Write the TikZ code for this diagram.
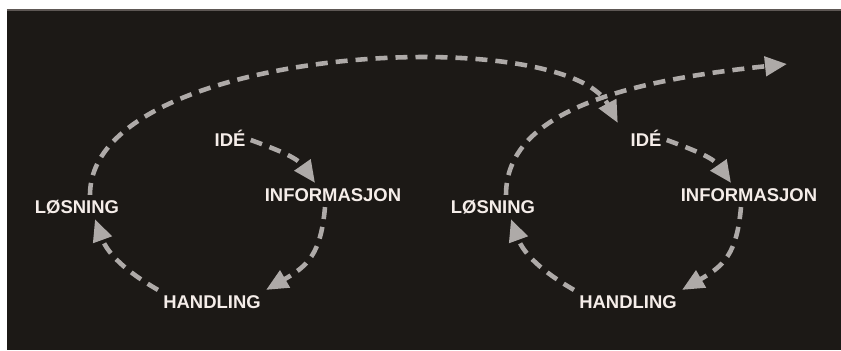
\documentclass[tikz,border=0pt]{standalone}
\usepackage{fontspec}
\setmainfont{Liberation Sans}
\usetikzlibrary{arrows.meta, positioning}

\definecolor{bgdark}{HTML}{1C1916}
\definecolor{edgegray}{HTML}{5E5855}
\definecolor{arrowgray}{HTML}{AEAAA8}
\definecolor{labelwhite}{HTML}{F5EDE9}

\begin{document}
\begin{tikzpicture}[
        every node/.style={font=\bfseries\fontsize{10.5}{12}\selectfont}, % bold sans labels
        stage/.style={text=labelwhite, inner sep=0.1cm, text height=0.27cm, text depth=0pt},
        cycle_arrow/.style={-{Triangle[length=0.44cm, width=0.38cm]}, line width=2.6pt,
            draw=arrowgray, dash pattern=on 0.24cm off 0.16cm}
    ]
        % --- Background ---
        \useasboundingbox (0,0) rectangle (16.82,7);
        \fill[white] (0,0) rectangle (16.82,7);
        \fill[bgdark] (0.14,0) rectangle (16.82,6.8);
        \draw[edgegray, line width=0.6pt] (0.14,6.8) -- (16.82,6.8);

        % --- First cycle ---
        \node[stage] (ide_a) at (4.60,4.20) {IDÉ};
        \node[stage] (info_a) at (6.66,3.10) {INFORMASJON};
        \node[stage] (hand_a) at (4.24,0.96) {HANDLING};
        \node[stage] (los_a) at (1.54,2.86) {LØSNING};

        % --- Second cycle (same layout, shifted right) ---
        \node[stage] (ide_b) at (12.92,4.20) {IDÉ};
        \node[stage] (info_b) at (14.98,3.10) {INFORMASJON};
        \node[stage] (hand_b) at (12.56,0.96) {HANDLING};
        \node[stage] (los_b) at (9.86,2.86) {LØSNING};

        % free end of the last arrow
        \coordinate (onward) at (15.74,5.72);

        % --- Arrows of the first cycle ---
        \draw[cycle_arrow] (ide_a.east) to[out=-20, in=125] ([xshift=-0.36cm]info_a.north);
        \draw[cycle_arrow] ([xshift=-0.16cm]info_a.south) to[out=-95, in=30, looseness=1.2] (hand_a.north east);
        \draw[cycle_arrow] (hand_a.north west) to[out=150, in=-70] ([xshift=0.36cm]los_a.south);

        % --- Big arc from the first cycle into the second ---
        \draw[cycle_arrow] ([xshift=0.26cm]los_a.north)
            to[out=90, in=118, out distance=3.0cm, in distance=2.3cm]
            ([xshift=-0.15cm, yshift=0.1cm]ide_b.north west);

        % --- Arrows of the second cycle ---
        \draw[cycle_arrow] (ide_b.east) to[out=-20, in=125] ([xshift=-0.36cm]info_b.north);
        \draw[cycle_arrow] ([xshift=-0.16cm]info_b.south) to[out=-95, in=30, looseness=1.2] (hand_b.north east);
        \draw[cycle_arrow] (hand_b.north west) to[out=150, in=-70] ([xshift=0.36cm]los_b.south);

        % --- Onward arc ---
        \draw[cycle_arrow] ([xshift=0.26cm]los_b.north)
            to[out=90, in=186, out distance=1.7cm, in distance=3.15cm] (onward);
    \end{tikzpicture}
\end{document}
